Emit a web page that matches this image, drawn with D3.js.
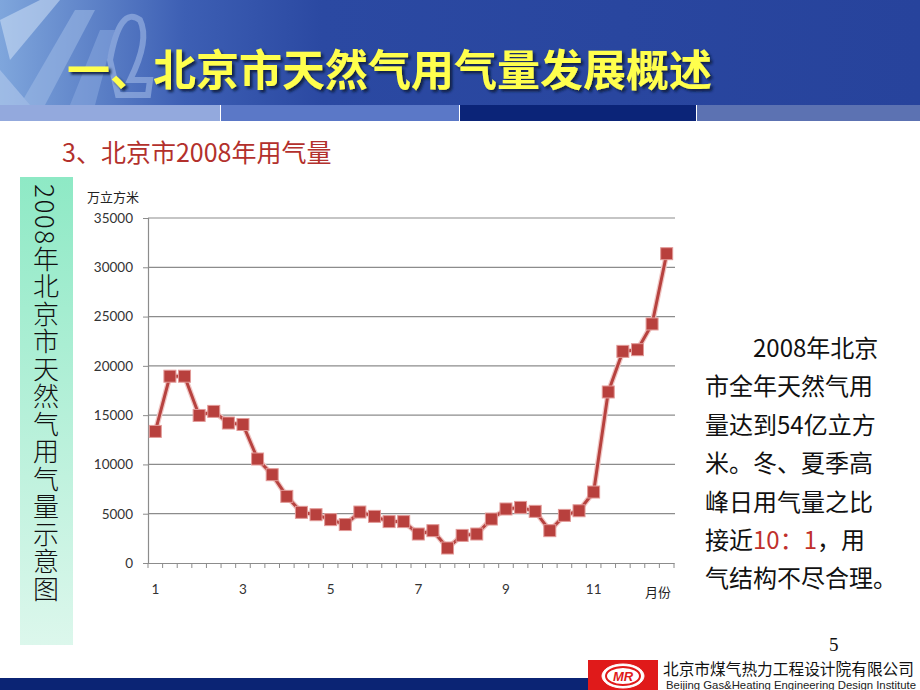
<!DOCTYPE html>
<html>
<head>
<meta charset="utf-8">
<script src="https://cdn.jsdelivr.net/npm/d3@7"></script>
<style>
  html, body { margin: 0; padding: 0; background: #fff; }
  svg { display: block; }
</style>
</head>
<body>
<svg id="slide" width="920" height="690"></svg>
<script>
// ---------- data ----------
const monthLabels = ["1","1","1","2","2","2","3","3","3","4","4","4","5","5","5","6","6","6",
                     "7","7","7","8","8","8","9","9","9","10","10","10","11","11","11","12","12","12"];
const gasValues = [13350, 18950, 18950, 14970, 15380, 14200, 14050, 10550, 8960, 6760, 5140, 4900,
                   4400, 3900, 5170, 4730, 4200, 4200, 2940, 3280, 1520, 2800, 2940, 4460,
                   5480, 5640, 5240, 3280, 4830, 5300, 7200, 17350, 21470, 21640, 24250, 31380];
const yTicks = [0, 5000, 10000, 15000, 20000, 25000, 30000, 35000];
const shownLabelIdx = [0, 6, 12, 18, 24, 30];
const titleText = "一、北京市天然气用气量发展概述";
const subTitle = "3、北京市2008年用气量";
const sideText = "2008年北京市天然气用气量示意图";
const unitText = "万立方米";
const xUnitText = "月份";

const svg = d3.select("#slide");
const defs = svg.append("defs");

// ---------- header ----------
const hg = defs.append("linearGradient").attr("id","hdr").attr("x1","0").attr("x2","1").attr("y1","0").attr("y2","0");
hg.append("stop").attr("offset","0").attr("stop-color","#7fa6dc");
hg.append("stop").attr("offset","0.2").attr("stop-color","#3d5fb4");
hg.append("stop").attr("offset","0.35").attr("stop-color","#2b49a2");
hg.append("stop").attr("offset","1").attr("stop-color","#27439c");
svg.append("rect").attr("x",0).attr("y",0).attr("width",920).attr("height",105).attr("fill","url(#hdr)");

const shadow = defs.append("filter").attr("id","tshadow").attr("x","-5%").attr("y","-20%").attr("width","110%").attr("height","140%");
shadow.append("feDropShadow").attr("dx",2.5).attr("dy",2.5).attr("stdDeviation",0.8)
  .attr("flood-color","#0d1a40").attr("flood-opacity",0.9);

// decorative glassy shapes at top left
const deco = svg.append("g").attr("opacity",0.55);
deco.append("path").attr("d","M0,20 L40,0 L60,0 L10,60 Z").attr("fill","#cfe0f6");
deco.append("path").attr("d","M20,105 L75,10 L95,10 L45,105 Z").attr("fill","#9fbbe6");
deco.append("path").attr("d","M70,105 L100,30 L115,30 L95,105 Z").attr("fill","#8aa9df");
deco.append("path").attr("d","M110,60 Q120,5 140,20 Q150,40 130,80 L150,80 L148,95 L118,95 Z")
  .attr("fill","none").attr("stroke","#a8c0ea").attr("stroke-width",6);
deco.append("path").attr("d","M0,105 L0,70 L30,105 Z").attr("fill","#b8cdee");

// title with shadow
svg.append("text").attr("x",67).attr("y",86)
  .attr("font-family","'Noto Sans CJK SC'").attr("font-weight",700).attr("font-size",43)
  .attr("fill","#ffff4d").attr("filter","url(#tshadow)").text(titleText);

// color band
const bandColors = [["#93a9dd",0,220],["#5b78c7",221,459],["#0b2478",460,696],["#5c72b2",697,920]];
svg.selectAll("rect.band").data(bandColors).enter().append("rect")
  .attr("x",d=>d[1]).attr("y",105).attr("width",d=>d[2]-d[1]).attr("height",16).attr("fill",d=>d[0]);

// subtitle
svg.append("text").attr("x",62).attr("y",162)
  .attr("font-family","'Noto Sans CJK SC'").attr("font-size",25).attr("fill","#b3302c").text(subTitle);

// ---------- side box ----------
const sg = defs.append("linearGradient").attr("id","side").attr("x1","0").attr("x2","0").attr("y1","0").attr("y2","1");
sg.append("stop").attr("offset","0").attr("stop-color","#8ee9c5");
sg.append("stop").attr("offset","1").attr("stop-color","#dcf7ec");
svg.append("rect").attr("x",20).attr("y",177).attr("width",53).attr("height",468).attr("fill","url(#side)");
svg.append("text").attr("x",46).attr("y",184)
  .attr("font-family","'Noto Sans CJK SC'").attr("font-weight",300).attr("font-size",26)
  .style("writing-mode","vertical-rl").style("letter-spacing","1.5px").attr("fill","#111").text(sideText);

// ---------- chart ----------
const x = d3.scaleBand().domain(d3.range(gasValues.length)).range([148, 674]).padding(0);
const y = d3.scaleLinear().domain([0, 35000]).range([563, 218]);

// gridlines
svg.append("g").selectAll("line").data(yTicks.filter(v=>v>0)).enter().append("line")
  .attr("x1",148).attr("x2",675).attr("y1",d=>y(d)).attr("y2",d=>y(d))
  .attr("stroke","#8c8c8c").attr("stroke-width",1.2);

// y axis
const yAxis = svg.append("g").attr("transform","translate(148,0)")
  .call(d3.axisLeft(y).tickValues(yTicks).tickSize(5).tickPadding(10).tickFormat(d3.format("d")));
yAxis.select(".domain").attr("stroke","#8c8c8c").attr("stroke-width",1.2);
yAxis.selectAll(".tick line").attr("stroke","#8c8c8c");
yAxis.selectAll("text").attr("font-family","Lato, 'Noto Sans'").attr("font-size",13.5).attr("fill","#333");

// x axis
const xAxis = svg.append("g").attr("transform","translate(0,563)")
  .call(d3.axisBottom(x).tickValues(shownLabelIdx).tickSize(0).tickPadding(21).tickFormat(i=>monthLabels[i]));
xAxis.select(".domain").attr("stroke","#8c8c8c").attr("stroke-width",1.2);
xAxis.selectAll("text").attr("font-family","Lato, 'Noto Sans'").attr("font-size",13.5).attr("fill","#333");
// category boundary tick marks
const bounds = d3.range(gasValues.length).map(i=>x(i)).concat([x.range()[1]]);
svg.append("g").selectAll("line").data(bounds).enter().append("line")
  .attr("x1",d=>d).attr("x2",d=>d).attr("y1",563).attr("y2",568)
  .attr("stroke","#8c8c8c").attr("stroke-width",1);

// axis titles
svg.append("text").attr("x",87).attr("y",202).attr("font-family","'Noto Sans CJK SC'")
  .attr("font-size",13).attr("fill","#222").text(unitText);
svg.append("text").attr("x",645).attr("y",597).attr("font-family","'Noto Sans CJK SC'")
  .attr("font-size",13).attr("fill","#222").text(xUnitText);

// line
const line = d3.line().x((d,i)=>x(i)+x.bandwidth()/2).y(d=>y(d));
svg.append("path").datum(gasValues).attr("d",line)
  .attr("fill","none").attr("stroke","#f0c8c6").attr("stroke-width",5.5).attr("stroke-linejoin","round");
svg.append("path").datum(gasValues).attr("d",line)
  .attr("fill","none").attr("stroke","#b7423f").attr("stroke-width",3).attr("stroke-linejoin","round");

// markers
const ms = 12;
svg.append("g").selectAll("rect").data(gasValues).enter().append("rect")
  .attr("x",(d,i)=>x(i)+x.bandwidth()/2-ms/2).attr("y",d=>y(d)-ms/2)
  .attr("width",ms).attr("height",ms)
  .attr("fill","#b8403d").attr("stroke","#e29a98").attr("stroke-width",1);

// ---------- right text ----------
const rightLines = [
  [{t:"2008年北京", c:"#111"}],
  [{t:"市全年天然气用", c:"#111"}],
  [{t:"量达到54亿立方", c:"#111"}],
  [{t:"米。冬、夏季高", c:"#111"}],
  [{t:"峰日用气量之比", c:"#111"}],
  [{t:"接近", c:"#111"},{t:"10：1", c:"#c0302c"},{t:"，用", c:"#111"}],
  [{t:"气结构不尽合理。", c:"#111"}]
];
const rt = svg.append("g").attr("font-family","'Noto Sans CJK SC'").attr("font-size",24);
rightLines.forEach((ln,i)=>{
  const t = rt.append("text").attr("x", i===0 ? 753 : 705).attr("y", 357 + i*38.4);
  ln.forEach(seg=>t.append("tspan").attr("fill",seg.c).text(seg.t));
});

// page number
svg.append("text").attr("x",829).attr("y",651).attr("font-family","'Liberation Serif'")
  .attr("font-size",19).attr("fill","#111").text("5");

// ---------- footer ----------
svg.append("rect").attr("x",0).attr("y",678).attr("width",588).attr("height",12).attr("fill","#0b2474");
svg.append("rect").attr("x",588).attr("y",660).attr("width",70).attr("height",30).attr("fill","#e01a1a");
svg.append("ellipse").attr("cx",623).attr("cy",676).attr("rx",21).attr("ry",12)
  .attr("fill","#fff").attr("stroke","#fff");
svg.append("ellipse").attr("cx",623).attr("cy",676).attr("rx",17).attr("ry",9)
  .attr("fill","none").attr("stroke","#e01a1a").attr("stroke-width",2);
svg.append("text").attr("x",623).attr("y",681).attr("text-anchor","middle")
  .attr("font-family","'Liberation Sans'").attr("font-weight",700).attr("font-style","italic")
  .attr("font-size",13).attr("fill","#e01a1a").text("MR");
svg.append("text").attr("x",663).attr("y",675).attr("font-family","'Noto Sans CJK SC'")
  .attr("font-size",15.7).attr("fill","#111").text("北京市煤气热力工程设计院有限公司");
svg.append("text").attr("x",666).attr("y",689).attr("font-family","'Liberation Sans'")
  .attr("font-size",11).attr("textLength",250).attr("lengthAdjust","spacingAndGlyphs")
  .attr("fill","#222").text("Beijing Gas&Heating Engineering Design Institute");
</script>
</body>
</html>
